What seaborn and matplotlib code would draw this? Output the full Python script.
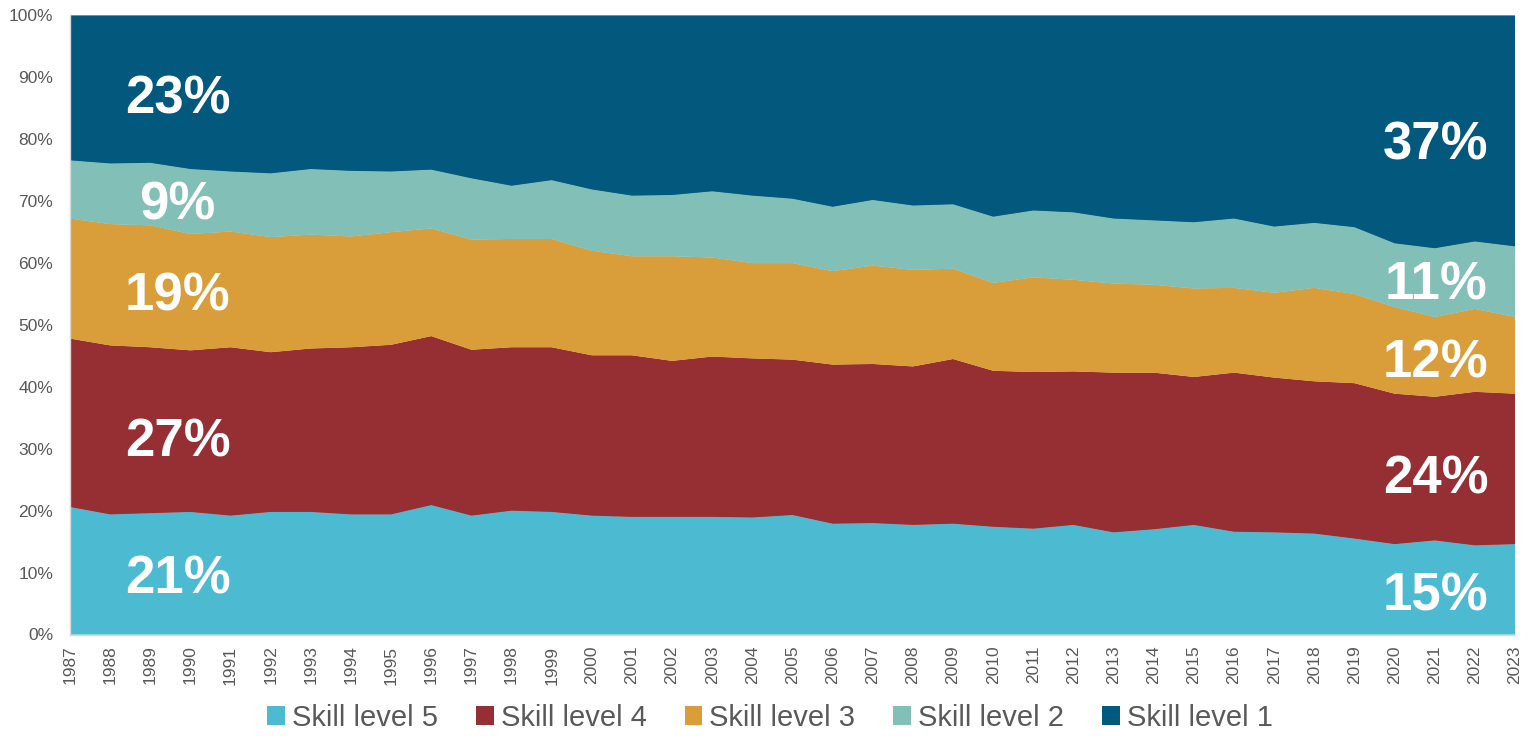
import matplotlib
matplotlib.use("Agg")
import matplotlib.pyplot as plt
from matplotlib.patches import Patch
from matplotlib.ticker import PercentFormatter
import pandas as pd
import seaborn as sns
import seaborn.objects as so

# Share of employment by skill level (%), 1987-2023
years = list(range(1987, 2024))

level5 = [20.6, 19.4, 19.6, 19.8, 19.2, 19.8, 19.8, 19.4, 19.4, 20.9,
          19.2, 20.0, 19.8, 19.2, 19.0, 19.0, 19.0, 18.9, 19.3, 17.9,
          18.0, 17.7, 17.9, 17.4, 17.1, 17.7, 16.5, 17.0, 17.7, 16.6,
          16.5, 16.3, 15.5, 14.6, 15.2, 14.4, 14.6]
level4 = [27.2, 27.3, 26.8, 26.1, 27.2, 25.8, 26.4, 27.0, 27.4, 27.3,
          26.8, 26.4, 26.6, 25.9, 26.1, 25.2, 25.9, 25.7, 25.1, 25.7,
          25.7, 25.6, 26.6, 25.2, 25.3, 24.8, 25.8, 25.3, 23.9, 25.7,
          25.0, 24.6, 25.1, 24.3, 23.2, 24.8, 24.3]
level3 = [19.4, 19.6, 19.7, 18.8, 18.7, 18.6, 18.4, 17.9, 18.2, 17.4,
          17.8, 17.5, 17.5, 16.9, 16.0, 16.9, 16.0, 15.4, 15.6, 15.1,
          15.9, 15.6, 14.6, 14.2, 15.3, 14.8, 14.4, 14.2, 14.3, 13.7,
          13.7, 15.1, 14.4, 14.0, 12.9, 13.4, 12.4]
level2 = [9.4, 9.8, 10.1, 10.5, 9.7, 10.3, 10.6, 10.6, 9.8, 9.5,
          9.9, 8.6, 9.5, 9.9, 9.8, 9.9, 10.7, 10.9, 10.4, 10.4,
          10.6, 10.4, 10.4, 10.7, 10.8, 10.9, 10.5, 10.4, 10.7, 11.2,
          10.7, 10.5, 10.8, 10.3, 11.1, 10.9, 11.4]
level1 = [23.4, 23.9, 23.8, 24.8, 25.2, 25.5, 24.8, 25.1, 25.2, 24.9,
          26.3, 27.5, 26.6, 28.1, 29.1, 29.0, 28.4, 29.1, 29.6, 30.9,
          29.8, 30.7, 30.5, 32.5, 31.5, 31.8, 32.8, 33.1, 33.4, 32.8,
          34.1, 33.5, 34.2, 36.8, 37.6, 36.5, 37.3]

level_names = ["Skill level 5", "Skill level 4", "Skill level 3",
               "Skill level 2", "Skill level 1"]
level_colors = ["#4CBAD0", "#952F34", "#D99E3A", "#82BFB6", "#02597D"]

series = [level5, level4, level3, level2, level1]

# long-form table; row order per year sets the stacking order (level 5 at the bottom)
rows = []
for i, yr in enumerate(years):
    for name, vals in zip(level_names, series):
        rows.append({"year": yr, "level": name, "share": vals[i]})
df = pd.DataFrame(rows)

sns.set_theme(style="white")
plt.rcParams["font.family"] = ["Liberation Sans", "DejaVu Sans"]

fig = plt.figure(figsize=(15.31, 7.36), dpi=100)
ax = fig.add_axes([70 / 1531, 1 - 634.5 / 736, 1445 / 1531, 619 / 736])

(
    so.Plot(df, x="year", y="share", color="level")
    .add(so.Area(alpha=1, edgewidth=0.5), so.Stack(), legend=False)
    .scale(color=so.Nominal(dict(zip(level_names, level_colors)), order=level_names))
    .theme(sns.axes_style("white"))
    .on(ax)
    .plot()
)

ax.set_xlim(years[0], years[-1])
ax.set_ylim(0, 100)
ax.set_facecolor("white")
ax.grid(False)
ax.set_xlabel("")
ax.set_ylabel("")

tick_color = "#595959"
ax.set_xticks(years)
ax.set_xticklabels([str(y) for y in years], rotation=90, fontsize=12.5, color=tick_color)
ax.set_yticks(range(0, 101, 10))
ax.yaxis.set_major_formatter(PercentFormatter(decimals=0))
ax.tick_params(axis="y", labelsize=12.5, labelcolor=tick_color, length=0, pad=12)
ax.tick_params(axis="x", length=0, pad=8)

for side in ["top", "right"]:
    ax.spines[side].set_visible(False)
for side in ["left", "bottom"]:
    ax.spines[side].set_color("#D9D9D9")
    ax.spines[side].set_linewidth(1)

# share labels at the first and last year
label_y_first = [6.7, 28.7, 52.3, 67.1, 84.1]
label_y_last = [3.8, 22.7, 41.5, 54.1, 76.8]
for vals, yf, yl in zip(series, label_y_first, label_y_last):
    ax.text(1989.68, yf, f"{round(vals[0]):.0f}%", ha="center", va="baseline",
            color="white", fontsize=38, fontweight="bold")
    ax.text(2021.02, yl, f"{round(vals[-1]):.0f}%", ha="center", va="baseline",
            color="white", fontsize=38, fontweight="bold")

handles = [Patch(facecolor=c, edgecolor="none") for c in level_colors]
fig.legend(handles, level_names, loc="center", bbox_to_anchor=(770 / 1531, 1 - 718 / 736),
           ncol=5, frameon=False, fontsize=21, handlelength=0.6, handleheight=0.6,
           handletextpad=0.25, columnspacing=1.3, labelcolor=tick_color)

fig.savefig("out.png", dpi=100, facecolor="white")
